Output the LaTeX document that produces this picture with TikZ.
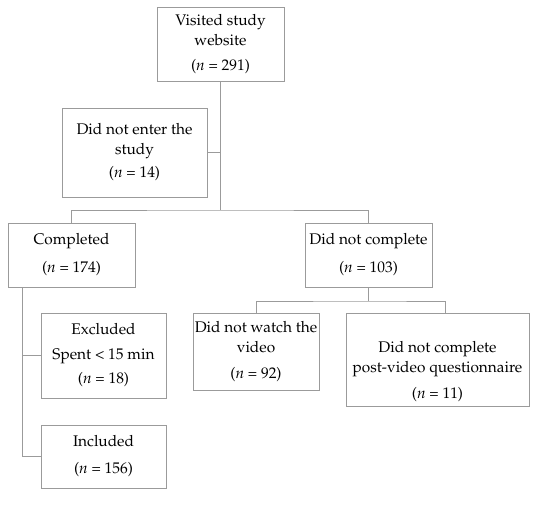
\documentclass[tikz,border=0pt]{standalone}
\usepackage[T1]{fontenc}
\usepackage{mathpazo}
\definecolor{linegray}{RGB}{155,155,155}
\begin{document}
\begin{tikzpicture}[x=1pt,y=-1pt,
  box/.style={draw=linegray, line width=1pt, rectangle, inner sep=0pt, align=center,
    font=\fontsize{15.4}{20}\selectfont},
  txt/.style={inner sep=0pt, align=center, font=\fontsize{15.4}{20}\selectfont},
  conn/.style={draw=linegray, line width=1pt}]
\useasboundingbox (0,0) rectangle (550,509);
\node[box, minimum width=127pt, minimum height=74pt] (top) at (220.5,44) {Visited study\\website\\[5pt](\textit{n} = 291)};
\node[box, minimum width=145pt, minimum height=89pt] (enter) at (134.5,152.5) {Did not enter the\\study\\[3pt](\textit{n} = 14)};
\node[box, minimum width=127pt, minimum height=64pt] (comp) at (71.5,255) {Completed\\[8pt](\textit{n} = 174)};
\node[box, minimum width=127pt, minimum height=64pt] (dnc) at (368.5,255) {Did not complete\\[8pt](\textit{n} = 103)};
\node[box, minimum width=125pt, minimum height=85pt] (excl) at (103.5,355.5) {Excluded\\[5pt]Spent \textless{} 15 min\\[4pt](\textit{n} = 18)};
\node[box, minimum width=125pt, minimum height=63pt] (incl) at (103.5,456.5) {Included\\[7pt](\textit{n} = 156)};
\node[box, minimum width=126pt, minimum height=77pt] (watch) at (256,351.5) {Did not watch the\\video\\[6pt](\textit{n} = 92)};
\node[box, minimum width=183pt, minimum height=93pt] (quest) at (437.5,359.5) {};
\node[txt] (questtxt) at (437.5,372) {Did not complete\\post-video questionnaire\\[6pt](\textit{n} = 11)};
\coordinate (j1) at (220.5,210);
\coordinate (j2) at (368.5,301);
\coordinate (qs) at (445,313);
\coordinate (ct) at (22,287);
\draw[conn] (top.south) -- (j1);
\draw[conn] (enter.east) -- (enter.east -| j1);
\draw[conn] (comp.north) |- (j1) -| (dnc.north);
\draw[conn] (dnc.south) -- (j2);
\draw[conn] (watch.north) |- (j2) -| (qs);
\draw[conn] (ct) |- (excl.west);
\draw[conn] (ct) |- (incl.west);
\end{tikzpicture}
\end{document}
